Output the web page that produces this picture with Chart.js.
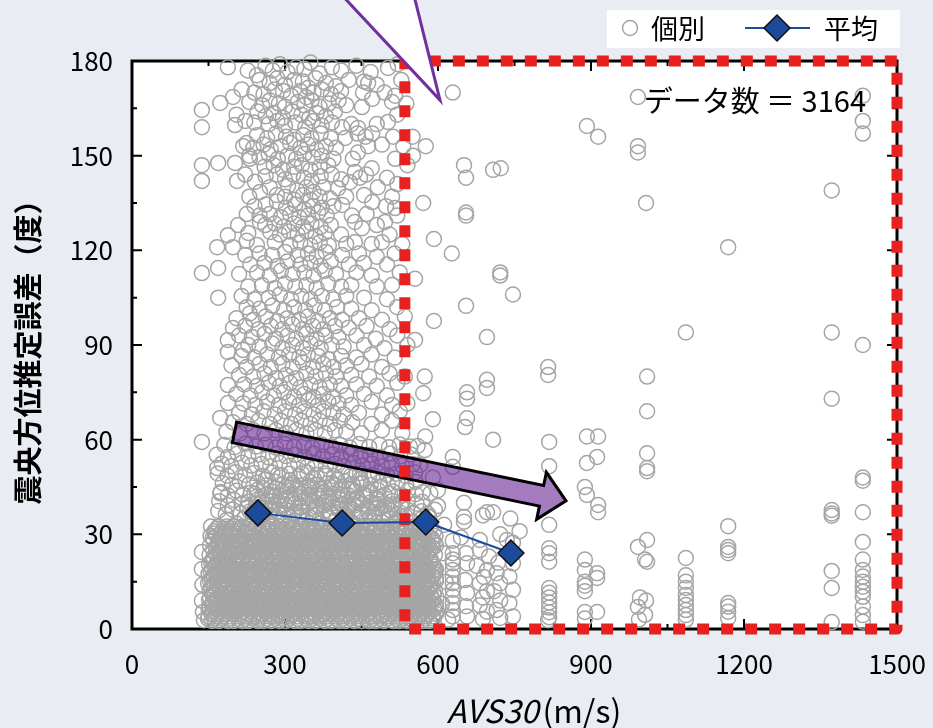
<!DOCTYPE html>
<html>
<head>
<meta charset="utf-8">
<script src="https://cdn.jsdelivr.net/npm/chart.js"></script>
<style>
  html, body { margin: 0; padding: 0; background: #e9ecf2; }
  canvas { display: block; }
</style>
</head>
<body>
<canvas id="chart" width="933" height="728"></canvas>
<script>

// mean of each AVS30 class (blue diamonds)
var meanAvs = [247, 412, 576, 743];
var meanErr = [36.8, 33.6, 33.9, 24.1];

var xTickLabels = [0, 300, 600, 900, 1200, 1500];
var yTickLabels = [0, 30, 60, 90, 120, 150, 180];

var dataCount = 3164;

// individual points (AVS30 m/s, error deg)
var scatterPoints = [
  // upper cloud
  [188,178],[227,177],[245,175.5],[262,178.5],[276,177],[290,179],[305,176.5],[322,178],[338,177.5],[350,179.5],[368,176],[392,178],[410,177],[440,178.5],[468,176.5],[502,177.8],[521,179],
  [250,174],[270,173],[285,174.5],[300,172.5],[318,174],[335,173.5],[346,171.5],[360,174.5],[380,173],[400,172],[425,174],[455,173.5],[480,172.5],[528,174],
  [215,171],[240,170],[258,169.5],[280,171],[296,170.5],[312,169],[330,170.5],[342,168.5],[356,170],[372,171],[390,169.5],[410,170.5],[463,173],[453,170],[495,170],[516,169],
  [173,166.7],[198,168.6],[230,167],[255,166],[270,167.5],[288,166.5],[300,165.5],[325,167],[338,166],[352,167.5],[368,165.5],[386,166.5],[405,167.5],[420,166],[451,165.4],[471,168],[510,167],[538,166.5],
  [137,164.5],[205,163],[246,164],[262,162.5],[278,163.5],[296,162],[315,164],[332,163],[348,162],[362,163.5],[380,162.5],[398,164],[520,163],
  [137,159],[202,159.7],[222,161],[240,160.5],[268,160],[285,161],[300,159.5],[320,160.5],[340,159],[355,161],[372,159.5],[392,160.5],[412,159],[430,160],[443,158.8],[480,160],[502,160.7],
  [245,156.5],[265,155.5],[282,157],[302,156],[318,155],[336,156.5],[352,155.5],[370,157],[390,155.5],[418,155.6],[442,157],[471,157],[458,156],[512,156],[550,156],
  [218,153],[225,154],[238,152.5],[258,153.5],[272,152],[292,153],[310,154],[330,152.5],[345,153.5],[362,152],[380,153],[400,152.5],[463,153],[490,153.5],[532,153],
  [230,150],[250,149.5],[268,150.5],[286,149],[305,150],[322,149],[338,150.5],[355,149.5],[372,150],[395,149],[443,151],[433,149],[516,149],
  [137,147],[169,147.7],[202,147.7],[231,149],[260,146.5],[278,147],[296,145.5],[318,146.5],[333,147],[350,145.5],[368,146.5],[385,147],[470,146],[540,147],
  [137,142],[206,142],[222,144],[241,141.7],[262,143.5],[284,144],[300,142.5],[316,144],[337,143],[352,142],[370,143.5],[392,144],[410,142.5],[437,144.8],[447,143],[459,144],[500,143],
  [251,138.5],[270,140],[306,140.5],[324,139],[342,140],[356,138.5],[375,140],[404,139.7],[427,141.6],[482,140],[520,141],
  [230,137],[284,137.5],[284,135.5],[300,137],[318,136],[335,137.5],[350,136],[368,137],[388,136.5],[420,137],[455,137.5],[510,137],
  [240,134],[262,134.5],[302,133.5],[320,134.5],[338,133],[355,134],[372,133.5],[395,134],[412,134.4],[471,135.3],[498,134],[516,133.4],
  [225,131.5],[250,131],[270,131.5],[292,130.5],[310,131.5],[328,130.5],[345,131],[365,132],[382,131],[431,131],[460,131.5],[520,131],
  [208,128],[251,129],[261,128],[280,128.5],[298,127.5],[318,128.5],[336,127.5],[352,128.5],[370,127.5],[390,128],[437,129],[451,127],[480,128],[496,129],
  [188,124.8],[228,125.5],[271,125.8],[290,125],[308,126],[325,125],[342,126],[360,124.5],[378,125.5],[410,125],[505,125],
  [167,121],[198,121],[225,123],[245,121.7],[280,122.6],[310,121.7],[330,122.5],[350,121.5],[368,122.5],[386,121.5],[420,122],[437,122.6],[470,122],[490,122.6],[530,122],
  [222,118.5],[250,119],[275,118.5],[300,119.5],[325,118.5],[345,119],[362,118],[380,119.5],[412,118.5],[445,119],[480,118],[515,119],
  [232,115.5],[260,116],[285,115],[305,116.5],[330,115.5],[350,116],[370,115],[390,116.5],[425,115.5],[455,116],[500,115.5],
  [137,112.8],[169,114.4],[210,112.5],[245,113],[270,112],[292,113.5],[315,112.5],[338,113],[356,112],[378,113.5],[400,112.5],[440,113],[470,112],[525,113],
  [228,108.5],[255,109],[280,108],[300,109.5],[320,108.5],[342,109],[362,108],[385,109.5],[410,108.5],[430,109],[480,108.5],[510,109],
  [169,105],[215,105.5],[240,104.5],[268,105],[290,106],[312,104.5],[332,105.5],[350,104.5],[372,105.5],[395,104.5],[420,105.5],[455,105],[500,104.5],
  [231,100],[225,102],[250,101.5],[275,102.5],[298,101],[318,102],[340,101],[358,102.5],[378,101],[402,102],[430,101.5],[470,101],[520,102],
  [205,98.5],[238,98],[262,99],[285,97.5],[305,98.5],[328,98],[345,99],[365,97.5],[388,98.5],[412,98],[445,98.5],[490,98],[535,99],
  [198,95.4],[222,96],[248,95],[272,96],[295,95],[315,96.5],[335,95],[355,96],[375,95],[398,96],[425,95.5],[460,96],[505,95],
  [188,91.6],[210,93],[235,92.5],[260,93.5],[282,92],[305,93],[322,92],[342,93.5],[362,92],[380,93],[405,92.5],[440,93],[478,92],[520,93],
  [188,87.8],[218,88.4],[228,90],[250,89.5],[275,90.5],[295,89],[315,90],[335,89],[350,90.5],[370,89],[392,90],[415,89.5],[455,90],[495,89],[540,90],
  [215,86.5],[240,86],[265,87],[288,86],[308,87],[328,86],[345,87],[365,86.5],[385,85.5],[410,86.5],[440,86],[470,87],[515,86],
  [195,83.5],[225,83],[250,84],[272,83],[295,84],[315,83],[335,84.5],[355,83],[375,84],[395,83],[420,83.5],[450,84],[490,83],
  [210,80.5],[238,80],[260,81],[282,79.5],[302,80.5],[322,79.5],[342,81],[360,80],[380,81],[400,80],[430,80.5],[465,80],[505,81],[535,80],
  [188,77.3],[220,77.5],[245,77],[268,78],[290,77],[310,78],[330,76.5],[350,77.5],[368,76.5],[388,77.5],[410,77],[440,77.5],[480,77],[520,78],
  [205,74.5],[232,74],[255,75],[278,74],[298,75],[318,73.5],[338,74.5],[356,73.5],[375,74.5],[395,73.5],[420,74],[455,74.5],[500,74],
  [188,71.6],[218,71.5],[242,71],[265,72],[288,71],[308,72],[328,71],[346,72.5],[365,71],[385,72],[405,71.5],[430,71],[470,72],[510,71],[540,71.5],
  [210,68.5],[235,68],[258,69],[280,68],[300,69],[320,68],[338,69],[356,68],[375,69],[395,68.5],[415,68],[445,68.5],[490,68],[525,69],
  [173,66.9],[198,65.5],[225,65],[248,66],[270,65],[292,66],[312,65],[332,66],[350,65],[368,66],[388,65],[408,66],[432,65.5],[470,65],[510,66],
  [137,59.3],[185,62.5],[212,62],[238,63],[260,62],[282,63],[302,62],[322,63],[342,62],[360,63],[378,62],[398,63],[420,62.5],[450,62],[490,63],[530,62],
  // transition above the dense mass
  [181,58.3],[201,57.6],[222,58.7],[243,57.8],[262,58.4],[282,57.5],[300,58.6],[318,57.7],[337,58.2],[354,57.4],[372,58.5],[391,57.8],[408,58.3],[427,57.5],[446,58.6],[465,57.7],[485,58.4],[504,57.6],[525,58.5],[545,57.8],
  [166,55.2],[188,54.5],[207,55.6],[228,54.7],[248,55.3],[267,54.4],[284,55.5],[302,54.8],[320,55.2],[339,54.5],[356,55.6],[374,54.7],[393,55.3],[410,54.5],[429,55.5],[448,54.8],[467,55.2],[486,54.5],[506,55.6],[526,54.7],[547,55.3],
  [176,52.4],[195,51.6],[216,52.7],[234,51.8],[254,52.3],[271,51.5],[290,52.6],[309,51.7],[326,52.2],[344,51.4],[361,52.5],[380,51.8],[398,52.3],[415,51.5],[434,52.6],[452,51.7],[470,52.4],[490,51.6],[509,52.5],[530,51.8],[551,52.2],
  [168,49.3],[187,48.6],[203,49.7],[222,48.8],[240,49.4],[257,48.5],[275,49.6],[293,48.7],[309,49.2],[327,48.4],[344,49.5],[362,48.8],[378,49.3],[396,48.5],[412,49.6],[430,48.7],[447,49.4],[465,48.6],[482,49.5],[500,48.8],[518,49.2],[536,48.5],[555,49.6],
  [262,47.4],[286,48.9],[309,47.1],[333,49.3],[356,47.8],[380,48.6],[402,47.2],[425,49.1],[448,47.6],[472,48.8],
  [178,46.2],[196,45.6],[211,46.8],[230,45.9],[246,46.4],[262,45.5],[281,46.7],[296,45.8],[315,46.3],[330,45.4],[349,46.6],[364,45.7],[383,46.2],[398,45.5],[417,46.8],[432,45.9],[451,46.4],[468,45.6],[485,46.5],[502,45.8],[521,46.3],[538,45.5],[556,46.6],
  [282,44.6],[303,45.1],[325,44.3],[347,45.2],[369,44.5],[390,45],[412,44.4],[434,45.3],
  [240,42.9],[258,44.6],[276,41.8],[295,43.9],[313,45.6],[331,42.8],[352,44.9],[372,43.1],[392,46.2],[412,42.6],[431,44.4],[449,46],[468,43.5],[488,45.1],[506,42.9],
  [174,43.4],[188,42.3],[205,43.8],[217,42.6],[233,43.2],[246,44.1],[264,42.5],[275,43.6],[290,42.2],[306,43.9],[319,42.7],[336,43.4],[348,44.2],[363,42.4],[377,43.5],[395,42.8],[408,44],[424,42.3],[436,43.7],[453,42.6],[467,43.3],[482,44.1],[495,42.5],[511,43.6],[529,42.4],[541,43.9],[556,42.7],[570,43.3],
  [255,41.6],[274,42.4],[293,41.2],[311,42.1],[330,41.5],[348,42.6],[367,41.3],[385,42.2],[404,41.7],[423,42.5],[441,41.4],[460,42.3],[480,41.6],
  [171,40.5],[188,39.2],[200,40.9],[215,39.6],[229,40.3],[247,41.1],[260,39.4],[276,40.6],[288,39.1],[305,40.8],[319,39.7],[334,40.4],[347,41.2],[363,39.3],[381,40.5],[393,39.8],[408,41],[422,39.2],[439,40.7],[452,39.5],[468,40.2],[482,41.1],[499,39.4],[511,40.6],[527,39.3],[540,40.9],[558,39.7],[569,40.3],
  [226,38.6],[245,39.8],[262,38.2],[279,39.5],[296,38.9],[312,40.2],[329,38.4],[345,39.6],[361,38.7],[378,40.1],[394,38.5],[411,39.4],[427,38.8],[444,40],[460,38.3],[477,39.7],[494,38.9],[512,39.5],[530,38.6],
  [236,36.9],[254,38.4],[270,35.6],[286,37.3],[300,39.4],[315,36.2],[331,38.7],[346,35.9],[360,37.8],[375,39.2],[389,36.5],[404,38.2],[420,35.7],[436,39.1],[450,37.2],[466,35.5],[482,38.6],[498,36.9],[514,38],[528,35.8],
  [169,37.4],[184,36.3],[197,37.9],[213,36.6],[231,37.2],[243,38.1],[258,36.4],[272,37.6],[289,36.2],[302,37.8],[318,36.7],[332,37.3],[349,38.2],[361,36.4],[377,37.5],[390,36.8],[408,38],[419,36.3],[434,37.7],[450,36.5],[463,37.3],[480,38.1],[492,36.5],[507,37.6],[521,36.3],[539,37.9],[552,36.7],[568,37.3],[580,36.5],[594,37.8],
  [186,34.6],[205,33.4],[221,35.2],[238,34.1],[252,35.8],[268,33.7],[283,34.9],[297,36.1],[312,33.9],[326,35.4],[341,34.2],[357,36],[370,33.6],[386,35.1],[400,34.4],[415,35.9],[430,33.8],[446,35.3],[459,34.3],[475,36.2],[490,33.9],[505,35],[520,34.5],[536,35.7],[552,33.8],[568,34.9],[583,35.5],
  // left edge
  [137,24.4],[137,19],[138,14],[137,9],[139,5.4],[141,2.8],[167,51],[173,43],[169,28],
  // right of the red line
  [629,170],[576,153],[551,150],[651,147],[655,143],[708,145.5],[723,146],[571,135],[655,132],[655,131],[592,123.6],[627,119],[722,113],[722,112],[747,106],[555,111],[655,102.4],[592,97.6],[696,92.5],[555,91.6],
  [574,80],[571,74.7],[590,66.5],[574,56.7],[560,58],[565,52],[575,61],[590,48],[600,44],[585,43],[600,39],[612,33],[610,24],[615,15],[608,8],[620,3],
  [629,54.5],[629,51.4],[629,28],[629,24],[629,22],[629,20.8],[629,18.7],[629,16.6],[629,14.5],[629,12.4],[629,10.3],[629,8.2],[629,6],[629,4],
  [657,75],[657,73],[657,66.8],[653,64],[651,40],[651,35.5],[651,34],[655,24],[657,20.8],[653,15.5],[657,11.4],[655,7.2],[657,4],[645,29],
  [696,79],[696,76.4],[682,28.2],[688,36],[696,37],[682,25],[696,18.7],[690,16.5],[682,14.5],[696,12],[688,10],[682,7.5],[696,5.5],[688,3.2],[676,20],[700,23],
  [708,60],[708,37],[722,30],[715,17.7],[722,14.5],[710,12],[722,9],[715,6],[722,3.5],[718,21],
  [735,28.2],[747,27.3],[747,20.8],[740,16.6],[747,12.4],[740,8.2],[747,4],[760,31],[742,35],
  [816,83],[816,80.5],[818,59.3],[818,51.6],[818,33],[818,25.6],[818,24],[818,21.3],[818,13],[818,11.5],[818,10],[818,8.4],[818,6.8],[818,5.3],[818,3.7],[816,2.8],
  [892,61],[914,61],[892,52.6],[912,54.5],[888,45],[892,42.5],[914,39.3],[914,37],[888,22],[888,18.7],[912,17.7],[912,16.2],[888,15],[888,13.7],[888,12],[888,5.4],[888,3.3],[912,5.4],[892,159.4],[914,156],
  [992,168.6],[992,153],[992,151],[1008,135],[1010,80],[1010,69],[1010,55.7],[1010,51],[1010,50],[1010,28.2],[1010,21.3],[992,26],[1006,22],[996,10],[1008,9],[992,7],[1006,4.5],[994,3],
  [1086,94],[1086,22.5],[1086,17],[1086,15],[1086,13],[1086,10.8],[1086,9.2],[1086,7.6],[1086,6],[1086,4.4],[1086,2.9],
  [1169,121],[1169,32.6],[1169,26],[1169,25],[1169,24],[1169,8.2],[1169,7.1],[1169,5.5],[1169,3.4],
  [1372,139],[1372,94],[1372,73],[1372,37.7],[1372,36.6],[1372,35.9],[1372,18.4],[1372,13],[1372,2.2],
  [1433,169],[1433,161],[1433,157],[1433,90],[1433,48],[1433,47],[1433,37],[1433,27.6],[1433,22],[1433,18.7],[1433,16.6],[1433,15],[1433,13.4],[1433,11.8],[1433,10.2],[1433,7.1],[1433,4.4],[1433,2.3]
];

// the solid grey mass at low AVS30 / small error, row by row: [error, [AVS30...]]
var denseRows = [
  [32.5, [155,170,186,199,216,228,243,257,275,288,304,316,333,347,362,375,391,409,421,436,450,467,480,496,510,527,539,555,568,586]],
  [31.75, [166,184,195,210,226,239,256,268,283,297,315,328,344,356,373,387,402,415,431,449,461,476,490,507,520,536,550,567]],
  [31, [162,177,191,209,222,238,250,267,281,296,309,325,343,355,370,384,401,414,430,444,461,473,489,502,520,531,546,562,575,592]],
  [30.25, [162,175,191,203,220,234,249,262,278,296,308,323,337,354,367,383,397,414,426,442,455,473,484,499,515,528,545,557,572]],
  [29.5, [154,166,183,197,212,225,241,259,271,286,300,317,330,346,360,377,389,405,418,436,447,462,478,491,508,520,535,549,567,580,595]],
  [28.75, [158,173,187,204,217,233,247,264,276,292,305,323,334,349,365,378,395,407,422,436,454,467,483,495,512,526,541,554,570,588]],
  [28, [160,176,194,206,221,235,252,265,281,295,312,324,340,353,371,382,397,413,426,443,455,470,484,502,515,531,543,560,574,590]],
  [27.25, [169,184,197,213,231,243,258,272,289,302,318,332,349,361,377,390,408,419,434,450,463,480,492,507,521,539,552,568,580,594]],
  [26.5, [153,170,183,199,213,230,242,258,271,289,300,315,331,344,361,373,388,402,420,433,449,461,478,492,507,520,536,554,566,581,596]],
  [25.75, [165,177,193,206,224,235,250,266,279,296,308,323,337,355,368,384,396,413,427,442,455,471,489,501,516,530,547,560,576,590]],
  [25, [159,172,190,201,216,232,245,262,274,289,303,321,334,350,362,379,393,408,421,437,455,467,482,496,513,526,542,556,573,585]],
  [24.25, [171,188,200,215,229,247,260,276,288,305,319,334,347,363,381,393,408,422,439,452,468,482,499,511,527,540,558,569]],
  [23.5, [152,165,182,194,209,223,241,254,270,282,299,313,328,341,357,375,387,402,416,433,446,462,476,493,505,521,534,552,563,578,594]],
  [22.75, [160,174,188,205,217,233,246,264,275,290,306,319,336,348,363,377,395,408,424,436,453,467,482,495,511,529,541,556,570]],
  [22, [158,176,189,205,217,234,248,263,276,292,310,322,337,351,368,381,397,411,428,440,456,469,487,498,513,529,542,559,571,586]],
  [21.25, [155,170,186,199,216,228,243,257,275,288,304,316,333,347,362,375,391,409,421,436,450,467,480,496,510,527,539,555,568,586]],
  [20.5, [151,165,180,193,209,227,239,254,268,285,298,314,328,345,357,373,386,404,415,430,446,459,476,488,503,517,535,548,564,576,590]],
  [19.75, [162,177,191,209,222,238,250,267,281,296,309,325,343,355,370,384,401,414,430,444,461,473,489,502,520,531,546,562,575,592]],
  [19, [157,169,184,198,215,228,244,258,275,287,303,316,334,345,360,376,389,406,418,433,447,465,478,494,506,523,537,552,565,581,596]],
  [18.25, [154,166,183,197,212,225,241,259,271,286,300,317,330,346,360,377,389,405,418,436,447,462,478,491,508,520,535,549,567,580,595]],
  [17.5, [150,167,179,195,208,226,237,252,268,281,298,310,325,339,357,370,386,398,415,429,444,457,473,491,503,518,532,549,562,578,593]],
  [16.75, [160,176,194,206,221,235,252,265,281,295,312,324,340,353,371,382,397,413,426,443,455,470,484,502,515,531,543,560,574,590]],
  [16, [156,167,182,198,211,228,240,255,269,287,300,316,328,345,359,374,387,403,421,433,448,462,479,492,508,522,539,551,567,580,596]],
  [15.25, [153,170,183,199,213,230,242,258,271,289,300,315,331,344,361,373,388,402,420,433,449,461,478,492,507,520,536,554,566,581,596]],
  [14.5, [149,161,176,190,208,221,237,249,266,280,295,308,324,342,354,369,383,400,413,429,443,460,472,488,501,519,530,545,561,574,590]],
  [13.75, [159,172,190,201,216,232,245,262,274,289,303,321,334,350,362,379,393,408,421,437,455,467,482,496,513,526,542,556,573,585]],
  [13, [155,171,183,200,214,229,242,258,276,288,303,317,334,347,363,377,394,406,422,435,453,464,479,495,508,525,537,552,566,584]],
  [12.25, [152,165,182,194,209,223,241,254,270,282,299,313,328,341,357,375,387,402,416,433,446,462,476,493,505,521,534,552,563,578,594]],
  [11.5, [161,177,190,208,219,234,250,263,280,292,307,321,339,352,368,380,397,411,426,439,455,473,485,500,514,531,544,560,574,591]],
  [10.75, [158,176,189,205,217,234,248,263,276,292,310,322,337,351,368,381,397,411,428,440,456,469,487,498,513,529,542,559,571,586]],
  [10, [153,169,182,199,211,226,240,258,271,287,299,316,330,345,358,374,392,404,419,433,450,463,479,493,510,522,538,551,569,580,597]],
  [9.25, [151,165,180,193,209,227,239,254,268,285,298,314,328,345,357,373,386,404,415,430,446,459,476,488,503,517,535,548,564,576,590]],
  [8.5, [159,173,191,204,220,232,249,263,278,291,307,325,337,352,366,383,396,412,426,443,455,471,484,502,513,528,544,557,574,586]],
  [7.75, [157,169,184,198,215,228,244,258,275,287,303,316,334,345,360,376,389,406,418,433,447,465,478,494,506,523,537,552,565,581,596]],
  [7, [152,169,183,198,211,227,245,257,272,286,303,316,332,346,363,375,391,404,422,433,448,464,477,494,506,521,535,553,566,582,596]],
  [6.25, [150,167,179,195,208,226,237,252,268,281,298,310,325,339,357,370,386,398,415,429,444,457,473,491,503,518,532,549,562,578,593]],
  [5.5, [158,176,188,203,217,234,247,263,277,294,306,322,335,353,364,379,395,408,425,437,452,466,484,497,513,525,542,556,571,584,598]],
  [4.75, [156,167,182,198,211,228,240,255,269,287,300,316,328,345,359,374,387,403,421,433,448,462,479,492,508,522,539,551,567,580,596]],
  [4, [150,163,179,193,210,222,238,251,269,280,295,311,324,341,353,368,382,400,413,429,441,458,472,487,500,516,534,546,561,575,590]],
  [3.25, [149,161,176,190,208,221,237,249,266,280,295,308,324,342,354,369,383,400,413,429,443,460,472,488,501,519,530,545,561,574,590]],
  [2.5, [157,171,188,200,216,229,247,258,273,289,302,319,331,346,360,378,391,407,419,436,450,465,478,494,512,524,539,553,570,583]]
];

// decorations, in data units
var redBox = [535, 1500, 0, 180];            // xmin, xmax, ymin, ymax
var arrowTail = [201, 62.3];
var arrowTip = [851, 40.6];
var calloutPts = [[405, 202], [551, 202], [604, 167.6]];

var fontName = "'Noto Sans CJK JP', 'Noto Sans', sans-serif";
var greyRing = '#a5a5a5';
var meanBlue = '#1c4b9c';

function toPx(chart, x, y) {
  return { x: chart.scales.x.getPixelForValue(x), y: chart.scales.y.getPixelForValue(y) };
}

function drawFrame(chart) {
  var ctx = chart.ctx;
  var a = chart.chartArea;
  var xs = chart.scales.x;
  var ys = chart.scales.y;

  ctx.save();
  ctx.strokeStyle = '#000';
  ctx.lineWidth = 3;
  ctx.strokeRect(a.left, a.top, a.right - a.left, a.bottom - a.top);

  ctx.lineWidth = 2;
  ctx.beginPath();
  xs.ticks.forEach(function(t) {
    var p = xs.getPixelForValue(t.value);
    var len = xTickLabels.indexOf(t.value) >= 0 ? 10 : 5;
    ctx.moveTo(p, a.bottom); ctx.lineTo(p, a.bottom - len);
    ctx.moveTo(p, a.top); ctx.lineTo(p, a.top + len);
  });
  ys.ticks.forEach(function(t) {
    var p = ys.getPixelForValue(t.value);
    var len = yTickLabels.indexOf(t.value) >= 0 ? 10 : 5;
    ctx.moveTo(a.left, p); ctx.lineTo(a.left + len, p);
    ctx.moveTo(a.right, p); ctx.lineTo(a.right - len, p);
  });
  ctx.stroke();
  ctx.restore();
}

function drawArrow(chart) {
  var ctx = chart.ctx;
  var p0 = toPx(chart, arrowTail[0], arrowTail[1]);
  var p1 = toPx(chart, arrowTip[0], arrowTip[1]);
  var dx = p1.x - p0.x, dy = p1.y - p0.y;
  var len = Math.sqrt(dx * dx + dy * dy);
  var ux = dx / len, uy = dy / len;
  var nx = -uy, ny = ux;
  var shaft = 10.5, head = 24, headLen = 25;
  var bx = p1.x - ux * headLen, by = p1.y - uy * headLen;

  ctx.save();
  ctx.beginPath();
  ctx.moveTo(p0.x - nx * shaft, p0.y - ny * shaft);
  ctx.lineTo(bx - nx * shaft, by - ny * shaft);
  ctx.lineTo(bx - nx * head, by - ny * head);
  ctx.lineTo(p1.x, p1.y);
  ctx.lineTo(bx + nx * head, by + ny * head);
  ctx.lineTo(bx + nx * shaft, by + ny * shaft);
  ctx.lineTo(p0.x + nx * shaft, p0.y + ny * shaft);
  ctx.closePath();
  ctx.fillStyle = 'rgba(103, 35, 148, 0.6)';
  ctx.fill();
  ctx.lineWidth = 3;
  ctx.lineJoin = 'miter';
  ctx.strokeStyle = '#000';
  ctx.stroke();
  ctx.restore();
}

function drawRedBox(chart) {
  var ctx = chart.ctx;
  var tl = toPx(chart, redBox[0], redBox[3]);
  var br = toPx(chart, redBox[1], redBox[2]);
  ctx.save();
  ctx.strokeStyle = '#e8201f';
  ctx.lineWidth = 11;
  ctx.setLineDash([12, 12]);
  ctx.lineJoin = 'round';
  ctx.strokeRect(tl.x, tl.y, br.x - tl.x, br.y - tl.y);
  ctx.restore();
}

function drawCallout(chart) {
  var ctx = chart.ctx;
  var p = calloutPts.map(function(c) { return toPx(chart, c[0], c[1]); });
  ctx.save();
  ctx.beginPath();
  ctx.moveTo(p[0].x, p[0].y);
  ctx.lineTo(p[2].x, p[2].y);
  ctx.lineTo(p[1].x, p[1].y);
  ctx.closePath();
  ctx.fillStyle = '#fff';
  ctx.fill();
  ctx.beginPath();
  ctx.moveTo(p[0].x, p[0].y);
  ctx.lineTo(p[2].x, p[2].y);
  ctx.lineTo(p[1].x, p[1].y);
  ctx.strokeStyle = '#7030a0';
  ctx.lineWidth = 3;
  ctx.lineJoin = 'miter';
  ctx.stroke();
  ctx.restore();
}

function drawDiamond(ctx, x, y, r) {
  ctx.beginPath();
  ctx.moveTo(x - r, y);
  ctx.lineTo(x, y - r);
  ctx.lineTo(x + r, y);
  ctx.lineTo(x, y + r);
  ctx.closePath();
  ctx.fillStyle = meanBlue;
  ctx.fill();
  ctx.lineWidth = 1.5;
  ctx.strokeStyle = '#111';
  ctx.stroke();
}

function drawLegend(chart) {
  var ctx = chart.ctx;
  ctx.save();
  ctx.fillStyle = '#fff';
  ctx.fillRect(607, 10, 293, 38);

  ctx.beginPath();
  ctx.arc(630, 28, 7.5, 0, Math.PI * 2);
  ctx.strokeStyle = greyRing;
  ctx.lineWidth = 1.5;
  ctx.stroke();

  ctx.font = '27px ' + fontName;
  ctx.fillStyle = '#000';
  ctx.textAlign = 'left';
  ctx.textBaseline = 'middle';
  ctx.fillText('個別', 651, 29);

  ctx.beginPath();
  ctx.moveTo(745, 28);
  ctx.lineTo(810, 28);
  ctx.strokeStyle = meanBlue;
  ctx.lineWidth = 2;
  ctx.stroke();
  drawDiamond(ctx, 777, 28, 13);

  ctx.fillStyle = '#000';
  ctx.fillText('平均', 824, 29);
  ctx.restore();
}

function drawTexts(chart) {
  var ctx = chart.ctx;
  var a = chart.chartArea;
  ctx.save();
  ctx.fillStyle = '#000';

  ctx.font = '29px ' + fontName;
  ctx.textAlign = 'right';
  ctx.textBaseline = 'middle';
  ctx.fillText('データ数 ＝ ' + dataCount, 866, 101);

  // x title: italic AVS30 + (m/s)
  var italicFont = 'italic 32px ' + fontName;
  var plainFont = '32px ' + fontName;
  ctx.font = italicFont;
  var w1 = ctx.measureText('AVS30').width;
  ctx.font = plainFont;
  var w2 = ctx.measureText('(m/s)').width;
  var startX = 534 - (w1 + 4 + w2) / 2;
  ctx.textAlign = 'left';
  ctx.font = italicFont;
  ctx.fillText('AVS30', startX, 711);
  ctx.font = plainFont;
  ctx.fillText('(m/s)', startX + w1 + 4, 711);

  // y title
  ctx.translate(28, (a.top + a.bottom) / 2);
  ctx.rotate(-Math.PI / 2);
  ctx.textAlign = 'center';
  ctx.font = 'bold 29px ' + fontName;
  ctx.fillText('震央方位推定誤差（度）', 0, 0);
  ctx.restore();
}

var decorPlugin = {
  id: 'decor',
  beforeDraw: function(chart) {
    var ctx = chart.ctx;
    var a = chart.chartArea;
    ctx.save();
    ctx.fillStyle = '#e9ecf2';
    ctx.fillRect(0, 0, chart.width, chart.height);
    ctx.fillStyle = '#fff';
    ctx.fillRect(a.left, a.top, a.right - a.left, a.bottom - a.top);
    ctx.restore();
  },
  beforeDatasetsDraw: function(chart) {
    drawFrame(chart);
  },
  afterDatasetDraw: function(chart, args) {
    if (args.index === 0) {
      drawArrow(chart);
      drawRedBox(chart);
    }
  },
  afterDraw: function(chart) {
    drawCallout(chart);
    drawLegend(chart);
    drawTexts(chart);
  }
};

function buildIndividual() {
  var out = [];
  for (var i = 0; i < denseRows.length; i++) {
    var xs = denseRows[i][1];
    for (var j = 0; j < xs.length; j++) {
      out.push({ x: xs[j], y: denseRows[i][0] });
    }
  }
  for (var k = 0; k < scatterPoints.length; k++) {
    out.push({ x: scatterPoints[k][0], y: scatterPoints[k][1] });
  }
  return out;
}

function buildMean() {
  var out = [];
  for (var i = 0; i < meanAvs.length; i++) {
    out.push({ x: meanAvs[i], y: meanErr[i] });
  }
  return out;
}

function noScalePadding(scale) {
  scale.paddingLeft = 0;
  scale.paddingRight = 0;
  scale.paddingTop = 0;
  scale.paddingBottom = 0;
}

function init() {

  Chart.defaults.font.family = fontName;

  var ctx = document.getElementById('chart').getContext('2d');
  var chart = new Chart(ctx, {

    type: 'scatter',

    data: {
      datasets: [{
        label: '個別',
        data: buildIndividual(),
        pointRadius: 7.5,
        pointBorderWidth: 1.5,
        borderColor: greyRing,
        backgroundColor: 'rgba(0,0,0,0)',
        pointHoverRadius: 7.5,
        clip: false,
        order: 2
      }, {
        label: '平均',
        type: 'line',
        data: buildMean(),
        showLine: true,
        borderColor: meanBlue,
        borderWidth: 2,
        pointStyle: 'rectRot',
        pointRadius: 13,
        pointHoverRadius: 13,
        pointBackgroundColor: meanBlue,
        pointBorderColor: '#111',
        pointBorderWidth: 1.5,
        clip: false,
        order: 1
      }]
    },

    options: {
      responsive: false,
      animation: false,
      devicePixelRatio: 1,
      layout: { autoPadding: false, padding: { left: 0, right: 36, top: 61, bottom: 0 } },
      plugins: { legend: { display: false }, tooltip: { enabled: false } },
      events: [],
      scales: {
        x: {
          type: 'linear',
          min: 0,
          max: 1500,
          grid: { display: false, drawTicks: false },
          border: { display: false },
          ticks: {
            stepSize: 150,
            autoSkip: false,
            maxRotation: 0,
            padding: 20,
            color: '#000',
            font: { size: 26 },
            callback: function(v) { return xTickLabels.indexOf(v) >= 0 ? String(v) : ''; }
          },
          afterFit: function(scale) { scale.height = 99; noScalePadding(scale); }
        },
        y: {
          min: 0,
          max: 180,
          grid: { display: false, drawTicks: false },
          border: { display: false },
          ticks: {
            stepSize: 15,
            autoSkip: false,
            padding: 19,
            color: '#000',
            font: { size: 26 },
            callback: function(v) { return yTickLabels.indexOf(v) >= 0 ? String(v) : ''; }
          },
          afterFit: function(scale) { scale.width = 132; noScalePadding(scale); }
        }
      }
    },

    plugins: [decorPlugin]
  });
}

init();
</script>
</body>
</html>
